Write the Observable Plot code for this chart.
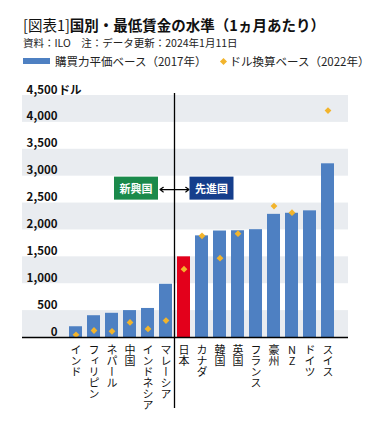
<!DOCTYPE html>
<html><head><meta charset="utf-8">
<script src="https://cdn.jsdelivr.net/npm/d3@7"></script>
<script src="https://cdn.jsdelivr.net/npm/@observablehq/plot@0.6"></script>
<style>
body{margin:0;background:#fff;font-family:"Noto Sans CJK JP","Noto Sans",sans-serif;}
#wrap{position:relative;width:368px;height:427px;overflow:hidden;background:#fff;}
.title{position:absolute;left:23px;top:17px;font-size:14.5px;line-height:16px;white-space:nowrap;color:#111;}
.title b{font-weight:700}
.src{position:absolute;left:23px;top:37px;font-size:10.5px;line-height:12px;color:#222;white-space:nowrap}
.legend{position:absolute;left:23px;top:54px;font-size:11.5px;line-height:14px;white-space:nowrap;display:flex;align-items:center;color:#222}
.sw{display:inline-block;width:27px;height:6px;background:#4e80c2;margin-right:5px}
.dm{display:inline-block;width:5px;height:5px;background:#f2b42c;transform:rotate(45deg);margin:0 3px 0 15px}
#chart{position:absolute;left:0;top:80px}
</style></head><body>
<div id="wrap">
  <div class="title">[図表1]<b>国別・最低賃金の水準（1ヵ月あたり）</b></div>
  <div class="src">資料：ILO　注：データ更新：2024年1月11日</div>
  <div class="legend"><span class="sw"></span><span>購買力平価ベース（2017年）</span><span class="dm"></span><span>ドル換算ベース（2022年）</span></div>
  <div id="chart"></div>
</div>
<script>
const countries = ["インド","フィリピン","ネパール","中国","インドネシア","マレーシア","日本","カナダ","韓国","英国","フランス","豪州","NZ","ドイツ","スイス"];
const ppp2017 = [200, 405, 450, 500, 540, 990, 1500, 1890, 1980, 1985, 2005, 2290, 2310, 2355, 3230];
const usd2022 = [50, 130, 115, 280, 160, 315, 1270, 1890, 1475, 1930, null, 2445, 2320, null, 4220];
const yTicks = [0, 500, 1000, 1500, 2000, 2500, 3000, 3500, 4000, 4500];
const bandStarts = [0, 1000, 2000, 3000, 4000];
const annotations = [
  {label: "新興国", anchor: "end", color: "#1b8a4b"},
  {label: "先進国", anchor: "start", color: "#153e8c"}
];
const annotY = 2750;

const data = countries.map((c, i) => ({country: c, ppp: ppp2017[i], usd: usd2022[i]}));
const BLUE = "#4e80c2", RED = "#e3001b", GOLD = "#f2b42c", GRAY = "#e9ecf0";

const chart = Plot.plot({
  width: 368, height: 347,
  marginLeft: 22, marginRight: 20, marginTop: 15, marginBottom: 90,
  style: {fontFamily: '"Noto Sans CJK JP","Noto Sans",sans-serif', background: "#fff"},
  x: {type: "band", domain: countries, range: [63.2, 340.1], paddingInner: 0.3, paddingOuter: 0.15, axis: null},
  y: {domain: [0, 4500], axis: null},
  marks: [
    Plot.rect(bandStarts, {y1: d => d, y2: d => d + 500, fill: GRAY}),
    Plot.barY(data, {x: "country", y: "ppp", fill: d => d.country === "日本" ? RED : BLUE}),
    Plot.dot(data.filter(d => d.usd != null), {x: "country", y: "usd", symbol: "square", r: 2.7, rotate: 45, fill: GOLD}),
    Plot.ruleY([0], {stroke: "#000", strokeWidth: 1.5}),
    Plot.ruleX(["日本"], {x: d => d, dx: -9.5, insetTop: -2, insetBottom: -71, stroke: "#000", strokeWidth: 1.3, ariaDescription: "divider"}),
    Plot.text(yTicks, {y: d => d, text: d => d3.format(",")(d), frameAnchor: "left", dx: 35, textAnchor: "end", lineAnchor: "bottom", dy: -2, fontWeight: "bold", fontSize: 11.5, fill: "#111"}),
    Plot.text([4500], {y: d => d, text: () => "ドル", frameAnchor: "left", dx: 36, textAnchor: "start", lineAnchor: "bottom", dy: -2, fontWeight: "bold", fontSize: 11.5, fill: "#111"}),
    Plot.text(countries, {x: d => d, text: d => d, frameAnchor: "bottom", dy: 7, textAnchor: "start", fontSize: 11, fill: "#111", ariaDescription: "xlabels"}),
    Plot.arrow([0], {x1: () => "日本", x2: () => "マレーシア", y1: () => annotY, y2: () => annotY, insetStart: 9.5, insetEnd: -6, headLength: 5, headAngle: 70, stroke: "#000", strokeWidth: 1.2}),
    Plot.arrow([0], {x1: () => "マレーシア", x2: () => "日本", y1: () => annotY, y2: () => annotY, insetStart: 9, insetEnd: -5, headLength: 5, headAngle: 70, stroke: "#000", strokeWidth: 1.2}),
    Plot.text(annotations, {x: () => "日本", y: () => annotY, text: "label", fill: "#fff", fontSize: 11, fontWeight: "bold", ariaDescription: "annot"})
  ]
});
document.getElementById("chart").appendChild(chart);

// vertical (tategaki) category labels
d3.select(chart).selectAll('g[aria-description="xlabels"] text')
  .attr("y", null).attr("dy", null)
  .style("writing-mode", "vertical-rl")
  .style("text-orientation", "upright");

// annotation boxes, placed beside the divider line
const svgBox = chart.getBoundingClientRect();
const ruleEl = chart.querySelector('g[aria-description="divider"] line');
const rb = ruleEl.getBoundingClientRect();
const divX = rb.left + rb.width / 2 - svgBox.left;
d3.select(chart).selectAll('g[aria-description="annot"] text').each(function(d, i) {
  const a = annotations[i];
  this.setAttribute("text-anchor", a.anchor);
  const tb = this.getBoundingClientRect();
  const left = tb.left - svgBox.left, right = tb.right - svgBox.left;
  const shift = a.anchor === "end" ? (divX - 22) - right : (divX + 20.5) - left;
  const t = this.getAttribute("transform") || "";
  const m = /translate\(([-\d.]+),([-\d.]+)\)/.exec(t);
  if (m) this.setAttribute("transform", `translate(${+m[1] + shift},${m[2]})`);
  else this.setAttribute("transform", `translate(${shift},0) ${t}`);
});
d3.select(chart).selectAll('g[aria-description="annot"] text').each(function(d, i) {
  const a = annotations[i];
  const b = this.getBBox();
  const t = this.getAttribute("transform") || "";
  const r = document.createElementNS("http://www.w3.org/2000/svg", "rect");
  r.setAttribute("x", b.x - 5.5); r.setAttribute("y", b.y - 3.5);
  r.setAttribute("width", b.width + 11); r.setAttribute("height", b.height + 7);
  r.setAttribute("fill", a.color);
  r.setAttribute("transform", t);
  this.parentNode.insertBefore(r, this);
});
</script>
</body></html>
